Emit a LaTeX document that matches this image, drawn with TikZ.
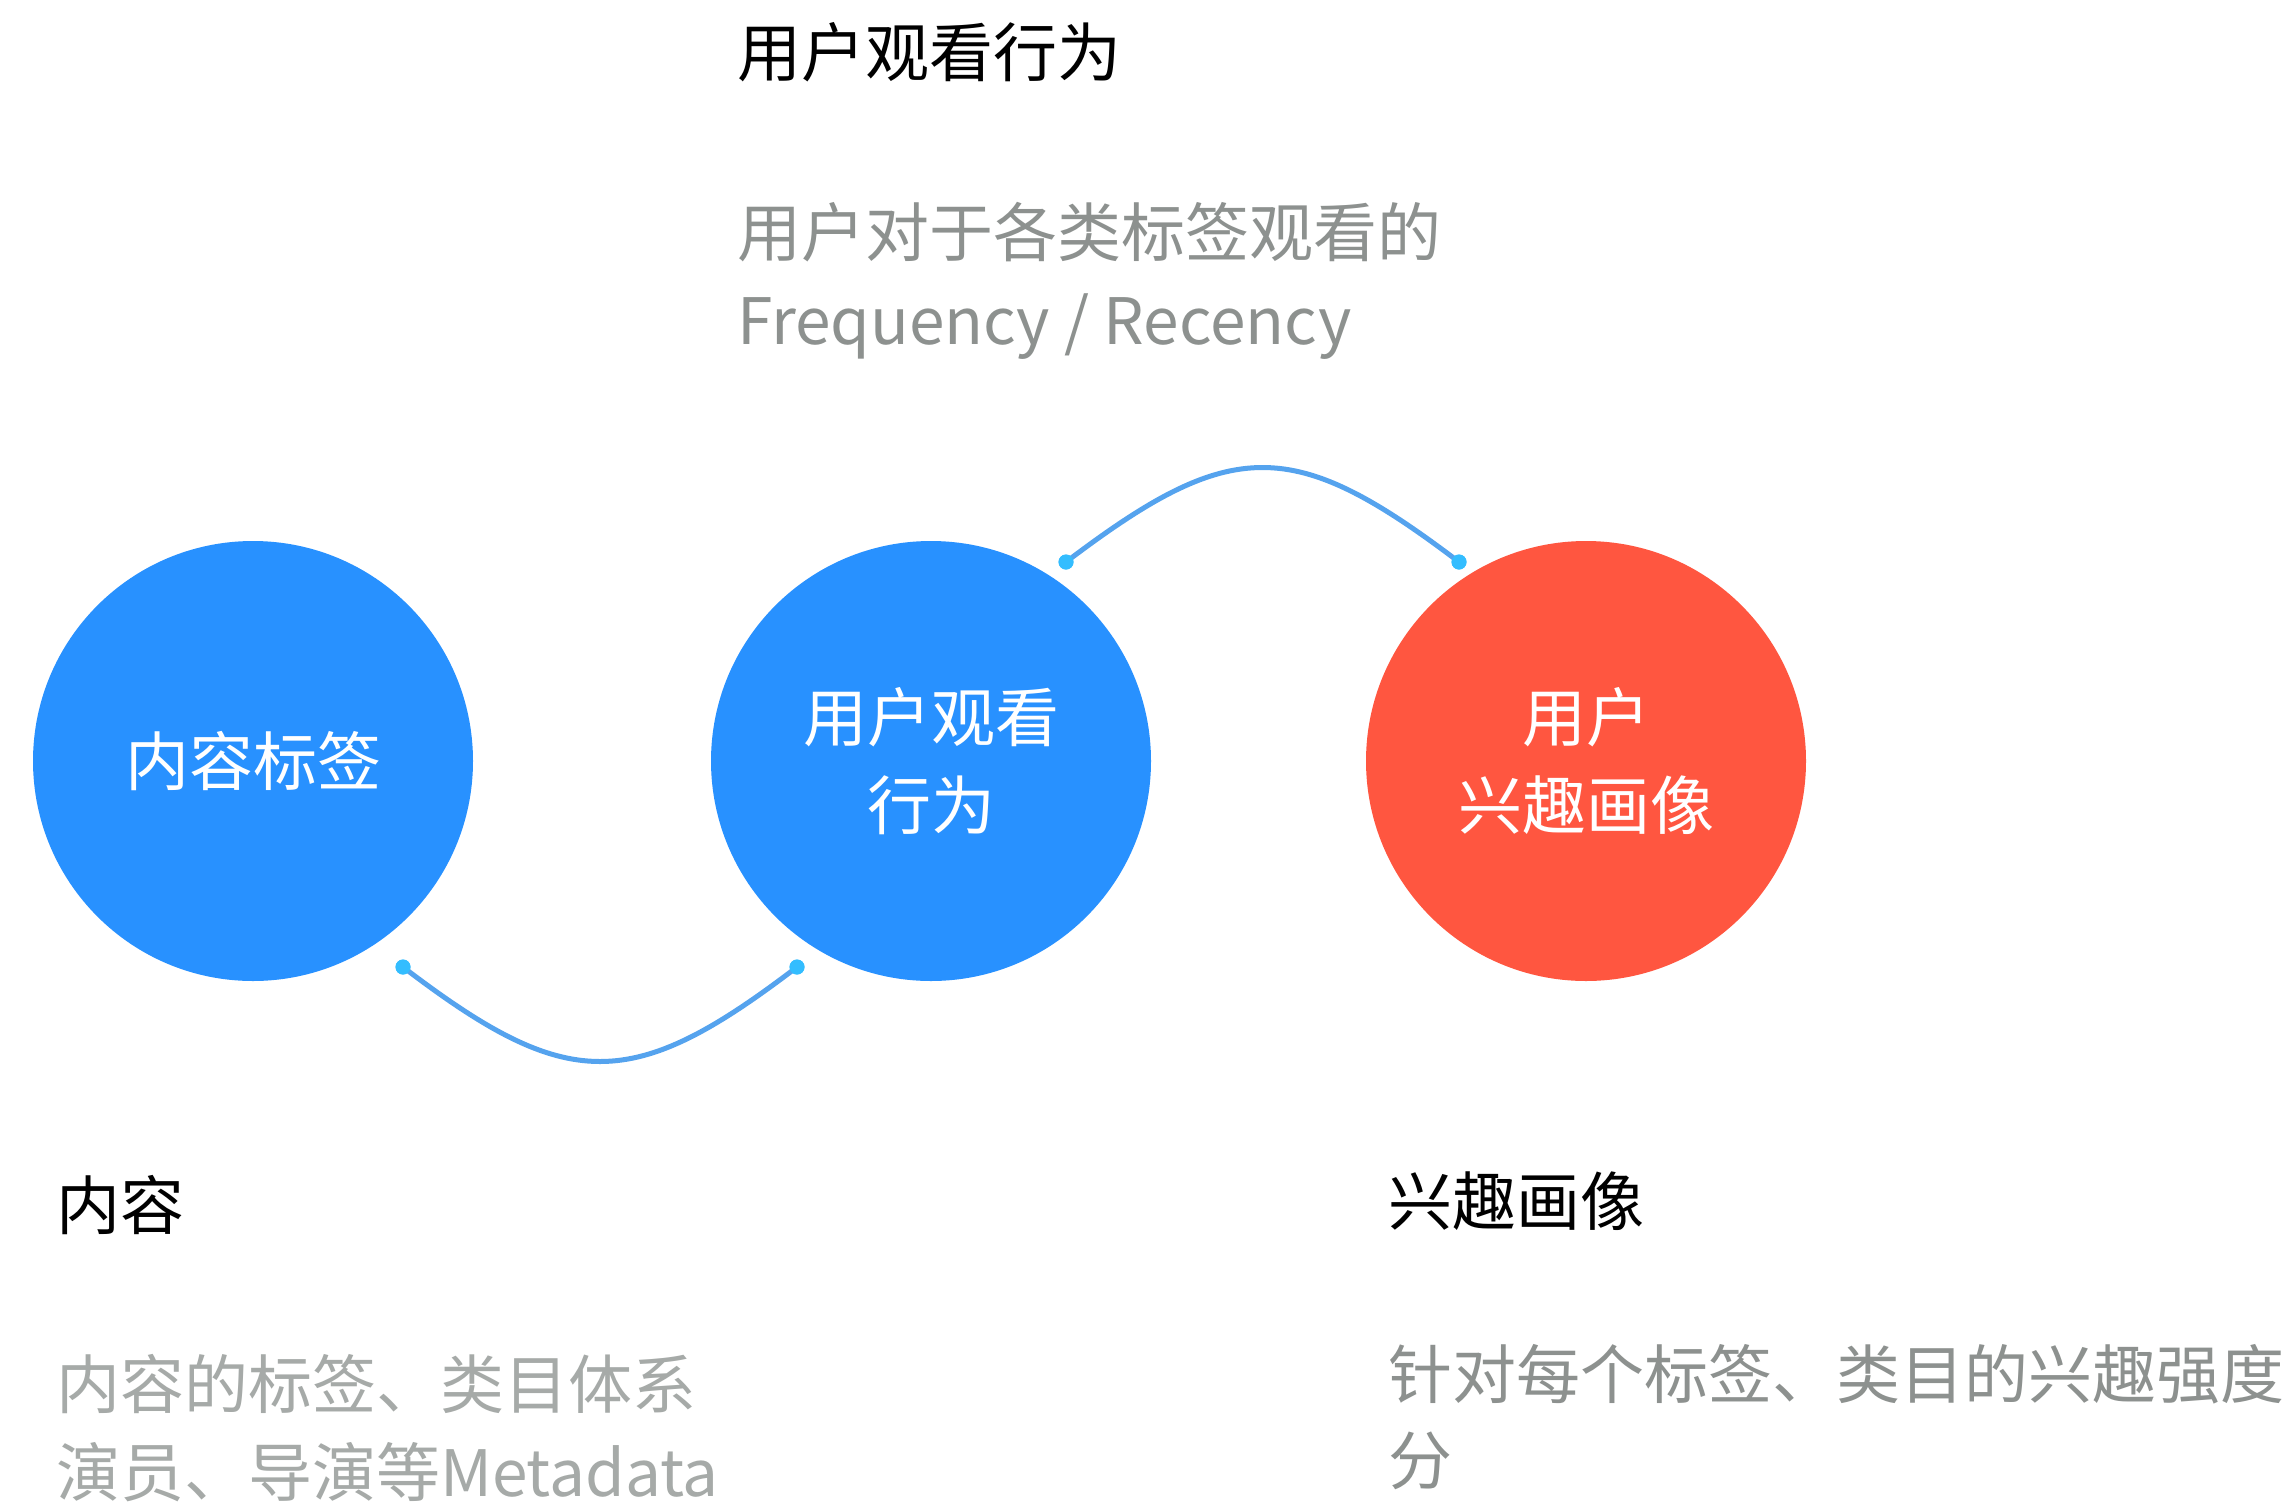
\documentclass[tikz,border=0pt]{standalone}
\usepackage{fontspec}
\setmainfont{Noto Sans CJK SC}
\definecolor{cblue}{HTML}{2891FF}
\definecolor{cred}{HTML}{FF5640}
\definecolor{curvec}{HTML}{55A3EE}
\definecolor{dotc}{HTML}{33BDFF}
\definecolor{greyA}{HTML}{8D918F}
\definecolor{greyB}{HTML}{A6AAA8}
\tikzset{
  bigcirc/.style={circle, fill=#1, draw=none, minimum size=440pt, inner sep=0pt,
    text=white, align=center, font=\fontsize{64}{88}\selectfont},
  head/.style={anchor=base west, inner sep=0pt, text=black, font=\fontsize{64}{88}\selectfont},
  desc/.style={anchor=base west, inner sep=0pt, text=#1, font=\fontsize{64}{88}\selectfont},
  enddot/.style={circle, fill=dotc, draw=none, minimum size=15pt, inner sep=0pt},
  link/.style={draw=curvec, line width=5pt, line cap=round}
}
\begin{document}
\begin{tikzpicture}[x=1pt, y=-1pt]
\useasboundingbox (0,0) rectangle (2296,1507);
\fill[white] (0,0) rectangle (2296,1507);

% circles
\node[bigcirc=cblue] (c1) at (253,761) {内容标签};
\node[bigcirc=cblue] (c2) at (931,761) {用户观看\\行为};
\node[bigcirc=cred]  (c3) at (1586,761) {用户\\兴趣画像};

% connector end dots
\node[enddot] (d1) at (403,967) {};
\node[enddot] (d2) at (797,967) {};
\node[enddot] (d3) at (1066,562) {};
\node[enddot] (d4) at (1459,562) {};

% connectors
\draw[link] (d1.center) .. controls (568,1093) and (632,1093) .. (d2.center);
\draw[link] (d3.center) .. controls (1232,436) and (1293,436) .. (d4.center);
\node[enddot] at (d1) {};
\node[enddot] at (d2) {};
\node[enddot] at (d3) {};
\node[enddot] at (d4) {};

% top text
\node[head] (t1) at (737,76) {用户观看行为};
\node[desc=greyA] (t2) at (737,256) {用户对于各类标签观看的};
\node[desc=greyA] (t3) at (737,344) {Frequency / Recency};

% bottom left text
\node[head] (l1) at (56,1229) {内容};
\node[desc=greyB] (l2) at (56,1408) {内容的标签、类目体系};
\node[desc=greyB] (l3) at (56,1496) {演员、导演等Metadata};

% bottom right text
\node[head] (r1) at (1388,1225) {兴趣画像};
\node[desc=greyA] (r2) at (1388,1398) {针对每个标签、类目的兴趣强度};
\node[desc=greyA] (r3) at (1388,1484) {分};
\end{tikzpicture}
\end{document}
